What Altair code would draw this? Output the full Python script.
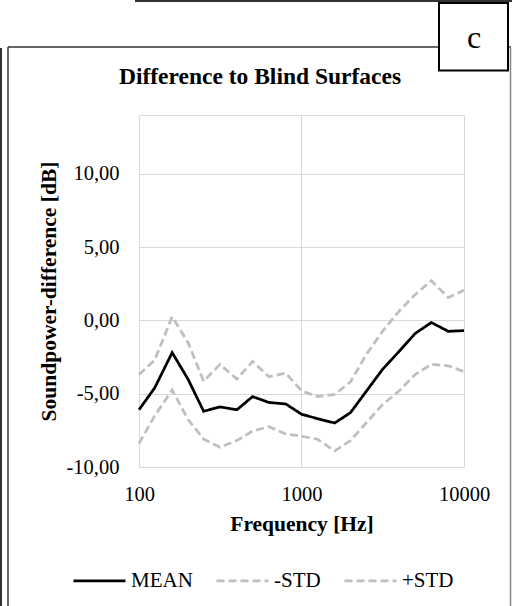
import altair as alt
import pandas as pd

# ---- data ----
freq = [100, 125, 160, 200, 250, 315, 400, 500, 630, 800, 1000,
        1250, 1600, 2000, 2500, 3150, 4000, 5000, 6300, 8000, 10000]
mean = [-6.1, -4.6, -2.2, -4.0, -6.2, -5.9, -6.1, -5.2, -5.6, -5.7, -6.4,
        -6.7, -7.0, -6.3, -4.85, -3.35, -2.1, -0.9, -0.15, -0.75, -0.7]
minus_std = [-8.4, -6.5, -4.75, -6.75, -8.1, -8.65, -8.2, -7.55, -7.25, -7.75, -7.9,
             -8.1, -8.9, -8.2, -7.0, -5.75, -4.8, -3.7, -3.0, -3.1, -3.5]
plus_std = [-3.7, -2.7, 0.25, -1.5, -4.15, -3.0, -4.0, -2.8, -3.85, -3.6, -4.8,
            -5.2, -5.05, -4.2, -2.35, -0.75, 0.65, 1.75, 2.7, 1.55, 2.05]
series_names = ["MEAN", "-STD", "+STD"]
series_colors = ["#000000", "#BFBFBF", "#BFBFBF"]
x_ticks = [100, 1000, 10000]
y_ticks = [-10, -5, 0, 5, 10]

rows = []
for name, vals in zip(series_names, [mean, minus_std, plus_std]):
    for f, v in zip(freq, vals):
        rows.append({"Frequency": f, "Value": v, "Series": name})
df = pd.DataFrame(rows)
one = pd.DataFrame({"k": [0]})

FONT = "Times New Roman, Liberation Serif, serif"
W, H = 325, 352
PL, PT = 139, 115

legend = alt.Legend(
    title=None, orient="none", legendX=-67, legendY=438, direction="horizontal",
    symbolType="stroke", symbolSize=2704, symbolStrokeWidth=2.75,
    labelFont=FONT, labelFontSize=21, labelColor="black",
    columnPadding=18, labelOffset=4,
)

lines = alt.Chart(df).mark_line(strokeWidth=2.75).encode(
    x=alt.X("Frequency:Q",
            scale=alt.Scale(type="log", domain=[100, 10000]),
            axis=alt.Axis(values=x_ticks, format="d", title="Frequency [Hz]",
                          grid=True, gridColor="#D9D9D9", gridWidth=1,
                          domain=False, ticks=False, tickSize=0,
                          labelPadding=17, labelFlush=False,
                          labelFont=FONT, labelFontSize=20.5, labelColor="black",
                          titleFont=FONT, titleFontSize=21.5, titleFontWeight="bold",
                          titleColor="black", titlePadding=9)),
    y=alt.Y("Value:Q",
            scale=alt.Scale(domain=[-10, 14], nice=False, zero=False),
            axis=alt.Axis(values=y_ticks, title="Soundpower-difference [dB]",
                          labelExpr="(datum.value < 0 ? '-' : '') + replace(format(abs(datum.value), '.2f'), '.', ',')",
                          grid=True, gridColor="#D9D9D9", gridWidth=1,
                          domain=False, ticks=False, tickSize=0,
                          labelPadding=20, labelFlush=False,
                          labelFont=FONT, labelFontSize=20.5, labelColor="black",
                          titleFont=FONT, titleFontSize=21.5, titleFontWeight="bold",
                          titleColor="black", titlePadding=6)),
    color=alt.Color("Series:N", scale=alt.Scale(domain=series_names, range=series_colors),
                    legend=legend),
    strokeDash=alt.StrokeDash("Series:N",
                              scale=alt.Scale(domain=series_names, range=[[1, 0], [8, 4], [8, 4]]),
                              legend=legend),
)

# ---- decorative figure frame (page layout around the chart) ----
def hrule(y, x1, x2, color="#333333", w=1.5):
    return alt.Chart(one).mark_rule(color=color, strokeWidth=w).encode(
        x=alt.value(x1 - PL), x2=alt.value(x2 - PL), y=alt.value(y - PT))

def vrule(x, y1, y2, color="#333333", w=1.5):
    return alt.Chart(one).mark_rule(color=color, strokeWidth=w).encode(
        x=alt.value(x - PL), y=alt.value(y1 - PT), y2=alt.value(y2 - PT))

frame = [
    hrule(47, 8, 511),
    vrule(8, 47, 606),
    vrule(510.5, 47, 606, color="#888888"),
    vrule(1, 48, 606, w=2),
    hrule(1, 135, 512, w=2),
]
cbox = alt.Chart(one).mark_rect(fill="white", stroke="black", strokeWidth=2).encode(
    x=alt.value(439 - PL), x2=alt.value(508 - PL),
    y=alt.value(3 - PT), y2=alt.value(70.5 - PT))
ctext = alt.Chart(one).mark_text(text="c", font=FONT, fontSize=32, color="black",
                                 align="center", baseline="middle").encode(
    x=alt.value(474 - PL), y=alt.value(38 - PT))

chart = alt.layer(*frame, cbox, ctext, lines).properties(
    width=W, height=H,
    title=alt.TitleParams("Difference to Blind Surfaces", font=FONT, fontSize=23.5,
                          fontWeight="bold", color="black", anchor="middle",
                          dx=-41.5, offset=-88),
    autosize=alt.AutoSizeParams(type="none"),
    padding={"left": PL, "top": PT, "right": 512 - PL - W, "bottom": 606 - PT - H},
).configure_view(stroke=None).configure(background="white")

chart.save("out.html", embed_options={"renderer": "svg", "actions": False})
